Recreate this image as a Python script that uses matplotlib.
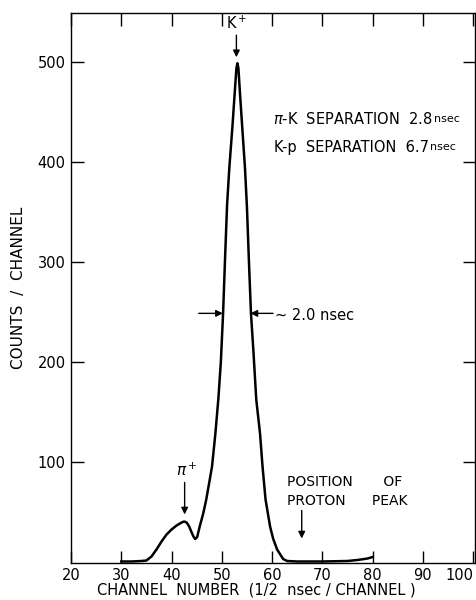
import matplotlib.pyplot as plt

# Time-of-flight spectrum
channel = [30, 32, 34, 35, 36, 37, 38, 39, 40, 41, 42, 42.5, 43, 43.5, 44,
           44.35, 44.7, 45.1, 45.6, 46.3, 46.9, 47.5, 48.05, 48.7, 49.3, 49.8,
           50.25, 50.65, 51.05, 51.5, 52.1, 52.6, 52.9, 53.1, 53.3, 53.6, 54.1,
           54.6, 55.0, 55.4, 55.8, 56.3, 56.85, 57.6, 58.1, 58.7, 59.6, 60.2,
           61.0, 62.2, 63, 65, 70, 75, 77, 79, 80]
counts = [1, 1, 1.5, 2, 6, 13, 21, 28, 33, 37, 40, 41, 40, 36, 30,
          26, 23.5, 25.5, 36, 49, 63, 80, 96, 128, 163, 200,
          249, 305, 358, 395, 435, 472, 494, 499, 494, 470, 432,
          395, 355, 300, 249, 210, 163, 129, 96, 63, 36, 24,
          13, 3.5, 1.5, 1, 1, 1.5, 2.5, 4, 5.5]

xticks = [20, 30, 40, 50, 60, 70, 80, 90, 100]
yticks = [100, 200, 300, 400, 500]

plt.rcParams['font.family'] = 'DejaVu Sans'

fig = plt.figure(figsize=(4.77, 6), dpi=100)
ax = fig.add_axes([0.149, 0.0625, 0.847, 0.9155])

ax.plot(channel, counts, color='black', lw=1.8)

ax.set_xlim(20, 100.4)
ax.set_ylim(0, 549)
ax.set_xticks(xticks)
ax.set_yticks(yticks)
ax.tick_params(direction='in', length=9, width=1, labelsize=10.5,
               top=True, right=True, pad=4)
ax.get_xticklabels()[-1].set_ha('right')
for s in ax.spines.values():
    s.set_linewidth(1)

ax.set_xlabel('CHANNEL  NUMBER  (1/2  nsec / CHANNEL )', fontsize=10.5)
ax.xaxis.set_label_coords(0.458, -0.036)
ax.set_ylabel('COUNTS  /  CHANNEL', fontsize=11)
ax.yaxis.set_label_coords(-0.112, 0.5)

arrow = dict(arrowstyle='-|>', color='black', lw=1, mutation_scale=10,
             shrinkA=0, shrinkB=0)

# peak labels
ax.text(52.9, 530, r'K$^+$', ha='center', va='bottom', fontsize=10.5)
ax.annotate('', xy=(52.9, 505), xytext=(52.9, 527), arrowprops=arrow)
ax.text(43.0, 83, r'$\pi^+$', ha='center', va='bottom', fontsize=11)
ax.annotate('', xy=(42.6, 48), xytext=(42.6, 80), arrowprops=arrow)

# FWHM marker
ax.annotate('', xy=(50.2, 249), xytext=(45.4, 249), arrowprops=arrow)
ax.annotate('', xy=(55.7, 249), xytext=(60.2, 249), arrowprops=arrow)
ax.text(60.5, 247, '~ 2.0 nsec', ha='left', va='center', fontsize=10.5)

# separations
ax.text(91.9, 443, r'$\pi$-K  SEPARATION  2.8', ha='right', va='center',
        fontsize=10.5)
ax.text(92.2, 443, 'nsec', ha='left', va='center', fontsize=8)
ax.text(91.2, 415, 'K-p  SEPARATION  6.7', ha='right', va='center',
        fontsize=10.5)
ax.text(91.5, 415, 'nsec', ha='left', va='center', fontsize=8)

# proton peak position
ax.text(63.0, 80, 'POSITION       OF', ha='left', va='center', fontsize=10)
ax.text(63.0, 61, 'PROTON      PEAK', ha='left', va='center', fontsize=10)
ax.annotate('', xy=(65.9, 24), xytext=(65.9, 52), arrowprops=arrow)

plt.savefig('out.png', dpi=100)
plt.close()
